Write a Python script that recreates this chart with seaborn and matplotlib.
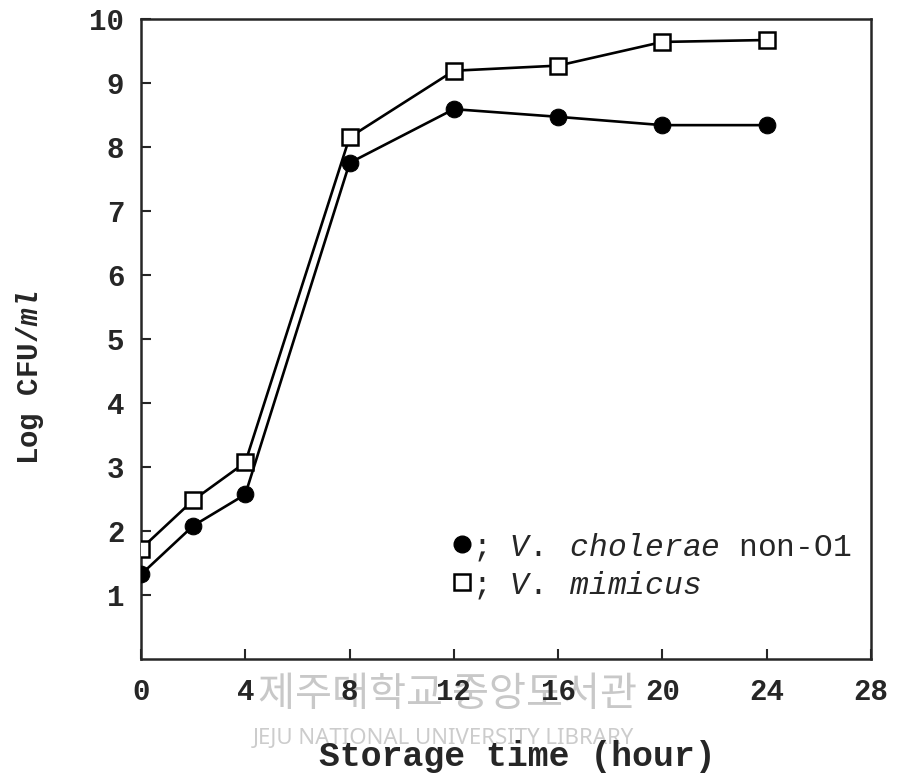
import matplotlib
matplotlib.use("Agg")
import matplotlib.pyplot as plt
import seaborn as sns
from matplotlib.lines import Line2D

# data
hours = [0, 2, 4, 8, 12, 16, 20, 24]
cholerae = [1.32, 2.08, 2.57, 7.75, 8.59, 8.47, 8.34, 8.34]
mimicus = [1.72, 2.48, 3.07, 8.15, 9.19, 9.27, 9.64, 9.67]
xticks = [0, 4, 8, 12, 16, 20, 24, 28]
yticks = [1, 2, 3, 4, 5, 6, 7, 8, 9, 10]

sns.set_style("ticks")
plt.rcParams['font.family'] = ['Liberation Mono', 'DejaVu Sans']
plt.rcParams['mathtext.fontset'] = 'custom'
plt.rcParams['mathtext.rm'] = 'Liberation Mono'
plt.rcParams['mathtext.it'] = 'Liberation Mono:italic'
plt.rcParams['mathtext.bf'] = 'Liberation Mono:bold:italic'

fig = plt.figure(figsize=(8.98, 7.74), dpi=100)
ax = fig.add_axes([0.157, 0.1486, 0.813, 0.827])

sns.lineplot(x=hours, y=cholerae, ax=ax, color='black', lw=1.9, marker='o',
             ms=12, mfc='black', mec='black', zorder=3)
sns.lineplot(x=hours, y=mimicus, ax=ax, color='black', lw=1.9, marker='s',
             ms=12, mfc='white', mec='black', mew=1.8, zorder=4)

ax.set_xlim(0, 28)
ax.set_ylim(0, 10)
ax.set_xticks(xticks)
ax.set_yticks(yticks)
ax.tick_params(direction='in', length=7, width=1.5, labelsize=21, pad=12)
ax.tick_params(axis='x', pad=14)
for lab in ax.get_xticklabels() + ax.get_yticklabels():
    lab.set_fontweight('bold')
for sp in ax.spines.values():
    sp.set_linewidth(1.8)
    sp.set_visible(True)

ax.set_xlabel('Storage time (hour)', fontsize=25, fontweight='bold')
ax.set_ylabel(r'Log CFU/$\mathbf{ml}$', fontsize=21, fontweight='bold')
ax.xaxis.set_label_coords(0.515, -0.127)
ax.yaxis.set_label_coords(-0.13, 0.44)

handles = [
    Line2D([], [], ls='none', marker='o', ms=12, mfc='black', mec='black'),
    Line2D([], [], ls='none', marker='s', ms=12, mfc='white', mec='black', mew=1.8),
]
labels = [r'; $\mathit{V.}$ $\mathit{cholerae}$ non-O1', r'; $\mathit{V.}$ $\mathit{mimicus}$']
ax.legend(handles, labels, loc='upper left', bbox_to_anchor=(0.41, 0.22),
          frameon=False, fontsize=22.5, handlelength=0.6, handletextpad=0.0,
          labelspacing=0.2, borderaxespad=0)

# faint library watermark
fig.text(0.287, 0.103, '제주대학교 중앙도서관', fontsize=29, color='#c8c8c8',
         family=['Noto Sans CJK KR', 'DejaVu Sans'], va='center', ha='left', zorder=-1)
fig.text(0.282, 0.0465, 'JEJU NATIONAL UNIVERSITY LIBRARY', fontsize=16, color='#cccccc',
         family=['Noto Sans', 'DejaVu Sans'], va='center', ha='left', zorder=-1)

fig.savefig('out.png', dpi=100)
